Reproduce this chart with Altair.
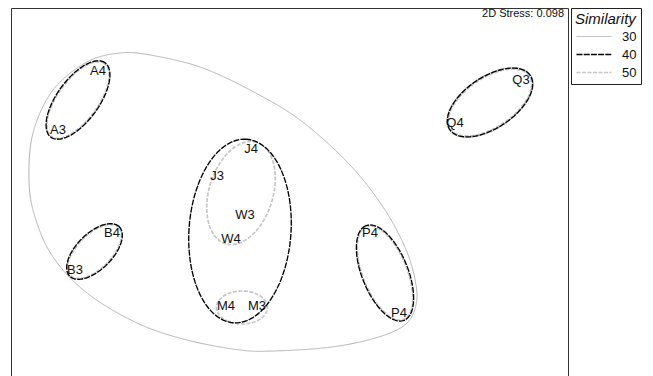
import altair as alt
import numpy as np
import pandas as pd

FONT = "Liberation Sans"

# ---- sample labels (positions) ----
labels = ["A4", "A3", "Q3", "Q4", "J4", "J3", "W3", "W4", "B4", "B3", "P4", "P4", "M4", "M3"]
label_x = [98, 58, 521, 455, 251, 217, 245, 231, 112, 75, 370, 399, 226, 257]
label_y = [71, 130, 80, 123, 149, 176, 215, 239, 233, 270, 233, 313, 306, 306]

# ---- similarity contours: ellipses (centre, semi-axes, tilt in degrees) ----
ell_group = ["A50", "A40", "B50", "B40", "Q30", "Q50", "Q40", "JWM40", "JW50", "M50", "P50", "P40"]
ell_level = ["50", "40", "50", "40", "30", "50", "40", "40", "50", "50", "50", "40"]
ell_cx = [78, 78, 94.5, 94.5, 490, 490, 490, 240, 241, 242, 385, 385]
ell_cy = [100, 100, 251.5, 251.5, 102.5, 102.5, 102.5, 231, 193, 307.5, 273, 273]
ell_a = [45, 46, 34, 35, 49, 47.5, 48.5, 92, 53, 25.5, 50, 51]
ell_b = [20, 21, 17, 18, 26, 24.5, 25.5, 51, 32, 16.5, 22, 23]
ell_angle = [54, 54, 45, 45, 34, 34, 34, 86, 73, 0, 112, 112]

# ---- 30% similarity hull around A, B, J, W, M, P (outline) ----
hull_x = [120, 150, 200, 250, 300, 350, 385, 407, 416, 416, 408, 390, 360, 323, 273, 240,
          187, 137, 87, 53, 35, 29, 33, 53, 87]
hull_y = [53, 55, 67, 90, 120, 165, 210, 252, 285, 305, 322, 333, 342, 348, 351, 350,
          340, 323, 293, 257, 217, 180, 133, 90, 62]

stress_text = "2D Stress: 0.098"
levels = ["30", "40", "50"]

rows = []
t = np.linspace(0, 2 * np.pi, 121)
for g, lv, cx, cy, a, b, ang in zip(ell_group, ell_level, ell_cx, ell_cy, ell_a, ell_b, ell_angle):
    p = np.deg2rad(ang)
    xs = cx + a * np.cos(p) * np.cos(t) - b * np.sin(p) * np.sin(t)
    ys = cy - (a * np.sin(p) * np.cos(t) + b * np.cos(p) * np.sin(t))
    for i, (x, y) in enumerate(zip(xs, ys)):
        rows.append({"grp": g, "Similarity": lv, "i": i, "x": x, "y": y, "closed": "no"})
for i, (x, y) in enumerate(zip(hull_x, hull_y)):
    rows.append({"grp": "hull30", "Similarity": "30", "i": i, "x": x, "y": y, "closed": "yes"})
contours = pd.DataFrame(rows)

pts = pd.DataFrame({"label": labels, "x": label_x, "y": label_y})

xscale = alt.Scale(domain=[11, 568], nice=False, zero=False)
yscale = alt.Scale(domain=[8, 378], nice=False, zero=False, reverse=True)
X = alt.X("x:Q", scale=xscale, axis=None)
Y = alt.Y("y:Q", scale=yscale, axis=None)

color = alt.Color("Similarity:N", title="Similarity",
                  scale=alt.Scale(domain=levels, range=["#b4b4b4", "#000000", "#c6c6c6"]))
dash = alt.StrokeDash("Similarity:N", title="Similarity",
                      scale=alt.Scale(domain=levels, range=[[1, 0], [6, 1.2], [4, 1.5]]))
width = alt.StrokeWidth("Similarity:N", title="Similarity",
                        scale=alt.Scale(domain=levels, range=[1, 1.7, 1.3]))

base = alt.Chart(contours).encode(x=X, y=Y, color=color, strokeDash=dash, strokeWidth=width,
                                  order=alt.Order("i:Q"), detail="grp:N")

hull = base.transform_filter("datum.closed == 'yes'").mark_line(interpolate="cardinal-closed")
l30 = base.transform_filter("datum.closed == 'no' && datum.Similarity == '30'").mark_line()
l50 = base.transform_filter("datum.closed == 'no' && datum.Similarity == '50'").mark_line()
l40 = base.transform_filter("datum.closed == 'no' && datum.Similarity == '40'").mark_line()

text = alt.Chart(pts).mark_text(font=FONT, fontSize=13, color="#111").encode(x=X, y=Y, text="label:N")

stress = alt.Chart(pd.DataFrame({"t": [stress_text]})).mark_text(
    font=FONT, fontSize=11, align="right", baseline="middle", color="#111"
).encode(x=alt.value(553), y=alt.value(6), text="t:N")

chart = alt.layer(hull, l30, l50, l40, text, stress).properties(
    width=557, height=370,
    autosize=alt.AutoSizeParams(type="none"),
    padding={"left": 3, "top": 0, "right": 77, "bottom": 0}
).configure_view(stroke="#333", strokeWidth=1).configure_legend(
    orient="none", legendX=560, legendY=0, strokeColor="#222", fillColor="white",
    padding=4, titleFont=FONT, titleFontStyle="italic", titleFontWeight="normal",
    titleFontSize=15, titleColor="#111", labelFont=FONT, labelFontSize=13, labelColor="#111",
    symbolType="M-1,0H6", symbolSize=100, rowPadding=4, titlePadding=3, labelOffset=34
)

chart.save("out.html", embed_options={"renderer": "svg", "actions": False})
